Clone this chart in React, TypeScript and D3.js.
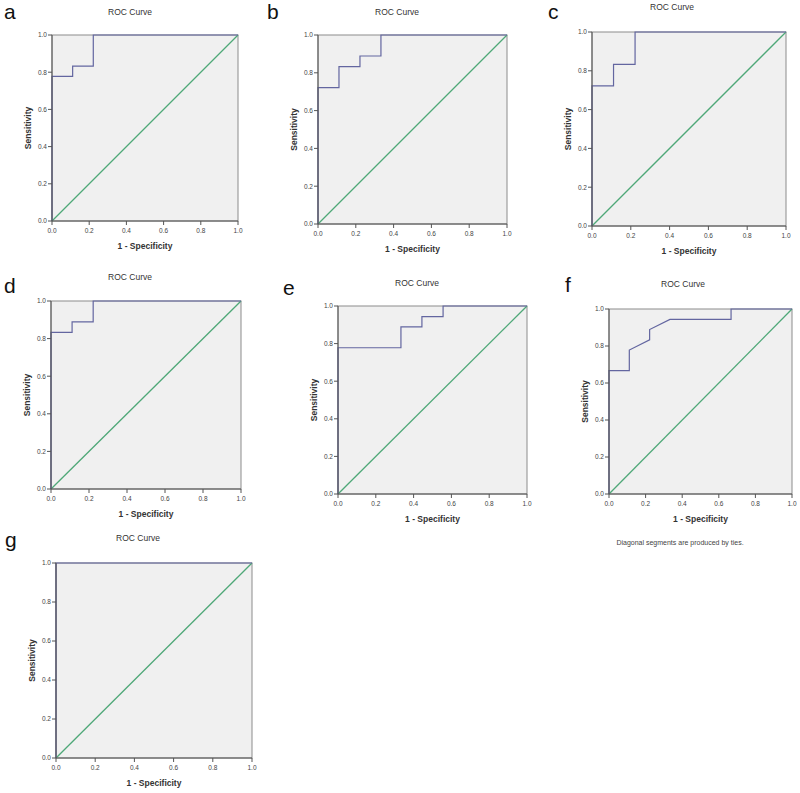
import React from "react";
import * as d3 from "d3";

const ticks = [0, 0.2, 0.4, 0.6, 0.8, 1.0];
const panelLetters = ["a", "b", "c", "d", "e", "f", "g"];
const titleText = "ROC Curve";
const xLabelText = "1 - Specificity";
const yLabelText = "Sensitivity";
const footnoteText = "Diagonal segments are produced by ties.";

// ROC curve points (1 - specificity, sensitivity)
const rocA_x = [0, 0, 0.111, 0.111, 0.222, 0.222, 1];
const rocA_y = [0, 0.778, 0.778, 0.833, 0.833, 1, 1];
const rocB_x = [0, 0, 0.111, 0.111, 0.222, 0.222, 0.333, 0.333, 1];
const rocB_y = [0, 0.722, 0.722, 0.833, 0.833, 0.889, 0.889, 1, 1];
const rocC_x = [0, 0, 0.111, 0.111, 0.222, 0.222, 1];
const rocC_y = [0, 0.722, 0.722, 0.833, 0.833, 1, 1];
const rocD_x = [0, 0, 0.111, 0.111, 0.222, 0.222, 1];
const rocD_y = [0, 0.833, 0.833, 0.889, 0.889, 1, 1];
const rocE_x = [0, 0, 0.333, 0.333, 0.444, 0.444, 0.556, 0.556, 1];
const rocE_y = [0, 0.778, 0.778, 0.889, 0.889, 0.944, 0.944, 1, 1];
const rocF_x = [0, 0, 0.111, 0.111, 0.222, 0.222, 0.333, 0.667, 0.667, 1];
const rocF_y = [0, 0.667, 0.667, 0.778, 0.833, 0.889, 0.944, 0.944, 1, 1];
const rocG_x = [0, 0, 1];
const rocG_y = [0, 1, 1];

const rocXs = [rocA_x, rocB_x, rocC_x, rocD_x, rocE_x, rocF_x, rocG_x];
const rocYs = [rocA_y, rocB_y, rocC_y, rocD_y, rocE_y, rocF_y, rocG_y];

// layout (pixels)
const layouts = [
  { l: 52, r: 238, t: 35, b: 221, tx: 130, ty: 15, lx: 4, ly: 19 },
  { l: 318, r: 507, t: 35, b: 224, tx: 397, ty: 15, lx: 267, ly: 19 },
  { l: 592, r: 786, t: 32, b: 226, tx: 672, ty: 10, lx: 548, ly: 19 },
  { l: 51, r: 241, t: 301, b: 489, tx: 130, ty: 280, lx: 4, ly: 293 },
  { l: 338, r: 527, t: 306, b: 494, tx: 417, ty: 286, lx: 283, ly: 295 },
  { l: 609, r: 792, t: 309, b: 494, tx: 683, ty: 287, lx: 565, ly: 292 },
  { l: 56, r: 252, t: 563, b: 758, tx: 138, ty: 541, lx: 5, ly: 547 },
];

const FONT = "Arial, 'Liberation Sans', Helvetica, sans-serif";

function Panel({ i }: { i: number }) {
  const L = layouts[i];
  const x = d3.scaleLinear().domain([0, 1]).range([L.l, L.r]);
  const y = d3.scaleLinear().domain([0, 1]).range([L.b, L.t]);
  const pts: [number, number][] = rocXs[i].map((v, k) => [v, rocYs[i][k]]);
  const line = d3
    .line<[number, number]>()
    .x((d) => x(d[0]))
    .y((d) => y(d[1]));
  const cy = (L.t + L.b) / 2;
  return (
    <g>
      <text x={L.lx} y={L.ly} fontSize={21} fontFamily={FONT} fill="#111">
        {panelLetters[i]}
      </text>
      <text x={L.tx} y={L.ty} fontSize={8.5} fontFamily={FONT} textAnchor="middle" fill="#333">
        {titleText}
      </text>
      <rect x={L.l} y={L.t} width={L.r - L.l} height={L.b - L.t} fill="#f0f0f0" stroke="#8c8c8c" strokeWidth={1} />
      <path d={line([[0, 0], [1, 1]]) || ""} stroke="#4fa878" strokeWidth={1.3} fill="none" />
      <path d={line(pts) || ""} stroke="#6366a0" strokeWidth={1.2} fill="none" />
      {/* axes */}
      <line x1={L.l} x2={L.r} y1={L.b} y2={L.b} stroke="#555" />
      <line x1={L.l} x2={L.l} y1={L.t} y2={L.b} stroke="#555" />
      {ticks.map((t) => (
        <g key={"x" + t}>
          <line x1={x(t)} x2={x(t)} y1={L.b} y2={L.b + 4} stroke="#555" />
          <text x={x(t)} y={L.b + 12} fontSize={6.5} fontFamily={FONT} textAnchor="middle" fill="#444">
            {t.toFixed(1)}
          </text>
        </g>
      ))}
      {ticks.map((t) => (
        <g key={"y" + t}>
          <line x1={L.l - 4} x2={L.l} y1={y(t)} y2={y(t)} stroke="#555" />
          <text x={L.l - 5} y={y(t) + 2.3} fontSize={6.5} fontFamily={FONT} textAnchor="end" fill="#444">
            {t.toFixed(1)}
          </text>
        </g>
      ))}
      <text x={(L.l + L.r) / 2} y={L.b + 28} fontSize={8.5} fontWeight="bold" fontFamily={FONT} textAnchor="middle" fill="#333">
        {xLabelText}
      </text>
      <text
        transform={`translate(${L.l - 21},${cy}) rotate(-90)`}
        fontSize={8.5}
        fontWeight="bold"
        fontFamily={FONT}
        textAnchor="middle"
        fill="#333"
      >
        {yLabelText}
      </text>
    </g>
  );
}

export default function App() {
  return (
    <svg
      width={800}
      height={793}
      style={{ position: "absolute", left: 0, top: 0, background: "#fff" }}
    >
      <rect width={800} height={793} fill="#fff" />
      {layouts.map((_, i) => (
        <Panel key={i} i={i} />
      ))}
      <text x={680} y={545} fontSize={7} fontFamily={FONT} textAnchor="middle" fill="#444">
        {footnoteText}
      </text>
    </svg>
  );
}
